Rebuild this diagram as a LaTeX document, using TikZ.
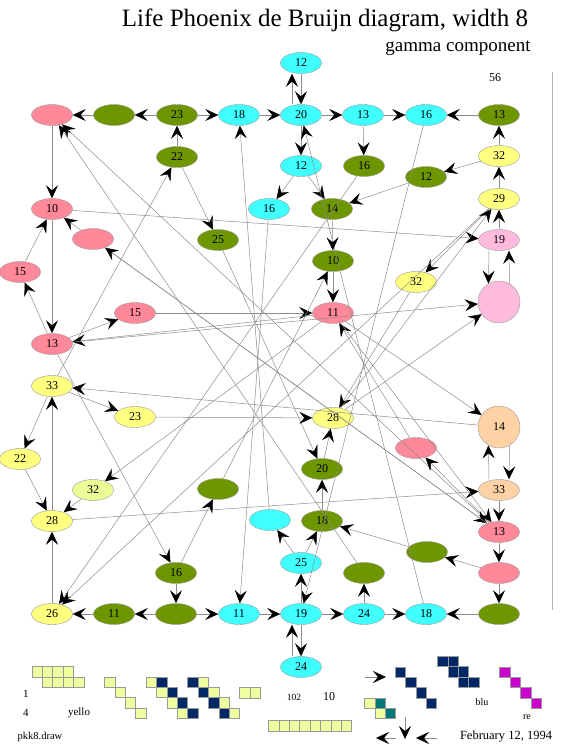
\documentclass[tikz,border=0pt]{standalone}
\usepackage{fontspec}
\setmainfont{Liberation Serif}
\usetikzlibrary{arrows.meta,shapes.geometric}

\definecolor{pnkc}{RGB}{255,136,153}
\definecolor{grnc}{RGB}{110,150,0}
\definecolor{cync}{RGB}{64,255,255}
\definecolor{ylwc}{RGB}{255,255,128}
\definecolor{palec}{RGB}{238,252,150}
\definecolor{lpnkc}{RGB}{255,187,221}
\definecolor{pchc}{RGB}{255,210,165}
\definecolor{tilec}{RGB}{238,255,160}
\definecolor{navyc}{RGB}{0,40,102}
\definecolor{magc}{RGB}{204,0,204}
\definecolor{tealc}{RGB}{0,120,120}

\begin{document}
\begin{tikzpicture}[x=1pt, y=-1pt,
  st/.style={ellipse, draw=black!40, line width=0.4pt, minimum width=41pt,
             minimum height=21pt, inner sep=0pt, font=\fontsize{12}{12}\selectfont},
  pn/.style={st, fill=pnkc},
  gn/.style={st, fill=grnc},
  cn/.style={st, fill=cync},
  yn/.style={st, fill=ylwc},
  lp/.style={st, fill=lpnkc},
  rnd/.style={circle, draw=black!40, line width=0.4pt, minimum size=42pt,
              inner sep=0pt, font=\fontsize{12}{12}\selectfont},
  arr/.style={-{Stealth[length=13pt, width=12pt, inset=5pt, color=black]},
              draw=black!45, line width=0.5pt},
  tile/.style={draw=black!40, line width=0.4pt},
  lbl/.style={font=\fontsize{#1}{#1}\selectfont, inner sep=0pt},
]
\useasboundingbox (0,0) rectangle (562,750);

% headings
\node[lbl=25] (title) at (325,20) {Life Phoenix de Bruijn diagram, width 8};
\node[lbl=19] (comp)  at (458,48) {gamma component};
\node[lbl=12] (n56)   at (495,78) {56};
\draw[black!30, line width=0.5pt] (552,72) -- (552,610);

% top row
\node[pn] (pA)   at (52,115)  {};
\node[gn] (gA)   at (114,115) {};
\node[gn] (g23)  at (177,115) {23};
\node[cn] (c18)  at (239,115) {18};
\node[cn] (c20)  at (301,115) {20};
\node[cn] (c13)  at (363,115) {13};
\node[cn] (c16a) at (426,115) {16};
\node[gn] (g13)  at (499,115) {13};
\node[cn] (c12a) at (301,63)  {12};

\node[gn] (g22)  at (177,157) {22};
\node[cn] (c12b) at (301,166) {12};
\node[gn] (g16a) at (364,166) {16};
\node[gn] (g12)  at (426,177) {12};
\node[yn] (y32a) at (499,156) {32};
\node[pn] (p10)  at (52,209)  {10};
\node[cn] (c16b) at (269,209) {16};
\node[gn] (g14)  at (332,209) {14};
\node[yn] (y29)  at (499,199) {29};
\node[pn] (pU)   at (93,239)  {};
\node[gn] (g25)  at (218,240) {25};
\node[lp] (p19)  at (499,240) {19};
\node[pn] (p15a) at (20,272)  {15};
\node[gn] (g10)  at (333,261) {10};
\node[yn] (y32b) at (416,282) {32};
\node[rnd, fill=lpnkc] (bigP) at (499,302) {};
\node[pn] (p15b) at (135,313) {15};
\node[pn] (p11)  at (333,313) {11};
\node[pn] (p13a) at (52,344)  {13};

\node[yn] (y33)  at (52,386)  {33};
\node[yn] (y23)  at (135,417) {23};
\node[yn] (y28a) at (333,418) {28};
\node[rnd, fill=pchc] (o14) at (499,427) {14};
\node[pn] (pV)   at (416,448) {};
\node[yn] (y22)  at (20,459)  {22};
\node[gn] (g20)  at (322,469) {20};
\node[st, fill=palec] (y32c) at (93,490) {32};
\node[gn] (gB)   at (218,489) {};
\node[st, fill=pchc] (o33) at (499,490) {33};
\node[yn] (y28b) at (52,521)  {28};
\node[cn] (cU)   at (270,520) {};
\node[gn] (g18)  at (322,521) {18};
\node[pn] (p13b) at (499,532) {13};
\node[gn] (gC)   at (427,552) {};
\node[gn] (g16b) at (176,573) {16};
\node[cn] (c25)  at (301,563) {25};
\node[gn] (gD)   at (364,573) {};
\node[pn] (pW)   at (499,573) {};

% bottom row
\node[yn] (y26)  at (52,614)  {26};
\node[gn] (g11)  at (114,614) {11};
\node[gn] (gE)   at (176,614) {};
\node[cn] (c11)  at (239,614) {11};
\node[cn] (c19)  at (301,614) {19};
\node[cn] (c24a) at (364,614) {24};
\node[cn] (c18b) at (426,614) {18};
\node[gn] (gF)   at (499,614) {};
\node[cn] (c24b) at (301,667) {24};

% edges
\draw[arr] (g23) -- (gA);
\draw[arr] (gA) -- (pA);
\draw[arr] (g23) -- (c18);
\draw[arr] (c18) -- (c20);
\draw[arr] (c20) -- (c13);
\draw[arr] (c13) -- (c16a);
\draw[arr] (g13) -- (c16a);
\draw[arr] ([xshift=-9pt]c20.north) -- ([xshift=-9pt]c12a.south);
\draw[arr] (c12a) -- (c20);
\draw[arr] (g22) -- (g23);
\draw[arr] (c20) -- (c12b);
\draw[arr] (c13) -- (g16a);
\draw[arr] (y32a) -- (g13);
\draw[arr] (y29) -- (y32a);
\draw[arr] (y32a) -- (g12);
\draw[arr] (g12) -- (g14);
\draw[arr] (c12b) -- (c16b);
\draw[arr] (c12b) -- (g14);
\draw[arr] (pA) -- (p10);
\draw[arr] (cU) -- (c18);
\draw[arr] (c18b) -- (c20);
\draw[arr] (y33) -- (g22);
\draw[arr] (g22) -- (g25);
\draw[arr] (p15a) -- (p10);
\draw[arr] (pU) -- (p10);
\draw[arr] (p10) -- (p19);
\draw[arr] (c16b) -- (c11);
\draw[arr] (g25) -- (g20);
\draw[arr] (g16a) -- (y26);
\draw[arr] (c16a) -- (c19);
\draw[arr] (g14) -- (g10);
\draw[arr] (p19) -- (y29);
\draw[arr] ([xshift=-10pt]p19.south) -- (bigP.120);
\draw[arr] (bigP.60) -- ([xshift=10pt]p19.south);
\draw[arr] (y29) -- (y32b);
\draw[arr] (y32b) -- (y28a);
\draw[arr] (g10) -- (p11);
\draw[arr] (p15b) -- (p11);
\draw[arr] (pV) -- (p11);
\draw[arr] (p10) -- (p13a);
\draw[arr] (p11) -- (p13a);
\draw[arr] (p13a) -- (bigP);
\draw[arr] (p13a) -- (p15b);
\draw[arr] (p13a) -- (p15a);
\draw[arr] (p13a) -- (g16b);
\draw[arr] (p13b) -- (pA);
\draw[arr] (y33) -- (y23);
\draw[arr] (y33) -- (y22);
\draw[arr] (y23) -- (y28a);
\draw[arr] (y28b) -- (y33);
\draw[arr] (o14) -- (y33);
\draw[arr] (p11) -- (o14);
\draw[arr] ([xshift=-10pt]o33.north) -- (o14.240);
\draw[arr] (o14.300) -- ([xshift=10pt]o33.north);
\draw[arr] (y28b) -- (o33);
\draw[arr] (o33) -- (p13b);
\draw[arr] (p13b) -- (pV);
\draw[arr] (g20) -- (y28a);
\draw[arr] (g18) -- (g20);
\draw[arr] (c25) -- (g18);
\draw[arr] (gC) -- (g18);
\draw[arr] (c25) -- (cU);
\draw[arr] (c19) -- (c25);
\draw[arr] (c11) -- (c19);
\draw[arr] ([xshift=-9pt]c24b.north) -- ([xshift=-9pt]c19.south);
\draw[arr] (c19) -- (c24b);
\draw[arr] (c19) -- (c24a);
\draw[arr] (c24a) -- (c18b);
\draw[arr] (gF) -- (c18b);
\draw[arr] (c24a) -- (gD);
\draw[arr] (pW) -- (gC);
\draw[arr] (p13b) -- (pW);
\draw[arr] (pW) -- (gF);
\draw[arr] (gE) -- (c11);
\draw[arr] (g16b) -- (gE);
\draw[arr] (gE) -- (g11);
\draw[arr] (g11) -- (y26);
\draw[arr] (y26) -- (y28b);
\draw[arr] (g16b) -- (gB);
\draw[arr] (y22) -- (y28b);
\draw[arr] (y32c) -- (y28b);
\draw[arr] (p11) -- (y32c);
\draw[arr] (gB) -- (g10);
\draw[arr] (gD) -- (pA);
\draw[arr] (y29) -- (y26);
\draw[arr] (pU) -- (p13b);
\draw[arr] (p13b) -- (pU);
\draw[arr] (p11) -- (p13b);
\draw[arr] (y28a) -- (bigP);
\draw[arr] (y28a) -- (y29);

% tile pictures
\foreach \i in {0,...,3} {
  \filldraw[tile, fill=tilec] (31.7+10.4*\i,666.3) rectangle +(10.4,10.4);
  \filldraw[tile, fill=tilec] (42.1+10.4*\i,676.7) rectangle +(10.4,10.4);
  \filldraw[tile, fill=tilec] (104.3+10.4*\i,676.7+10.4*\i) rectangle +(10.4,10.4);
  \filldraw[tile, fill=tilec] (145.9+10.4*\i,676.7+10.4*\i) rectangle +(10.4,10.4);
  \filldraw[tile, fill=navyc] (156.3+10.4*\i,676.7+10.4*\i) rectangle +(10.4,10.4);
  \filldraw[tile, fill=navyc] (187.5+10.4*\i,676.7+10.4*\i) rectangle +(10.4,10.4);
  \filldraw[tile, fill=tilec] (197.9+10.4*\i,676.7+10.4*\i) rectangle +(10.4,10.4);
  \filldraw[tile, fill=navyc] (395+10.4*\i,666.7+10.4*\i) rectangle +(10.4,10.4);
  \filldraw[tile, fill=magc] (499.3+10.5*\i,666.7+10.4*\i) rectangle +(10.4,10.4);
}
\foreach \i in {0,1} {
  \filldraw[tile, fill=tilec] (239.3+10.4*\i,687.3) rectangle +(10.4,10.4);
  \filldraw[tile, fill=tilec] (364.3+10.4*\i,697.7+10.4*\i) rectangle +(10.4,10.4);
  \filldraw[tile, fill=tealc] (374.7+10.4*\i,697.7+10.4*\i) rectangle +(10.4,10.4);
}
\foreach \i in {0,...,7}
  \filldraw[tile, fill=tilec] (268.3+10.4*\i,720.3) rectangle +(10.4,10.4);
\foreach \i in {0,1,2} {
  \filldraw[tile, fill=navyc] (437.3+10.4*\i,656+10.4*\i) rectangle +(10.4,10.4);
  \filldraw[tile, fill=navyc] (447.7+10.4*\i,656+10.4*\i) rectangle +(10.4,10.4);
}

% loose arrows
\coordinate (ra) at (365,677);
\coordinate (rb) at (386,677);
\coordinate (da) at (405,717);
\coordinate (db) at (405,739);
\coordinate (la) at (396,738);
\coordinate (lb) at (376,738);
\coordinate (lc) at (437,738);
\coordinate (ld) at (416,738);
\draw[arr] (ra) -- (rb);
\draw[arr] (da) -- (db);
\draw[arr] (la) -- (lb);
\draw[arr] (lc) -- (ld);

% captions
\node[lbl=11]   (one)   at (26,694)  {1};
\node[lbl=11]   (four)  at (26,713)  {4};
\node[lbl=11]   (yel)   at (79,713)  {yello};
\node[lbl=10.5] (file)  at (40,737)  {pkk8.draw};
\node[lbl=9.5]  (n102)  at (294,697) {102};
\node[lbl=12]   (n10)   at (329,697) {10};
\node[lbl=10]   (blu)   at (482,702) {blu};
\node[lbl=10]   (re)    at (527,717) {re};
\node[lbl=12.5] (date)  at (506,737) {February 12, 1994};
\end{tikzpicture}
\end{document}
